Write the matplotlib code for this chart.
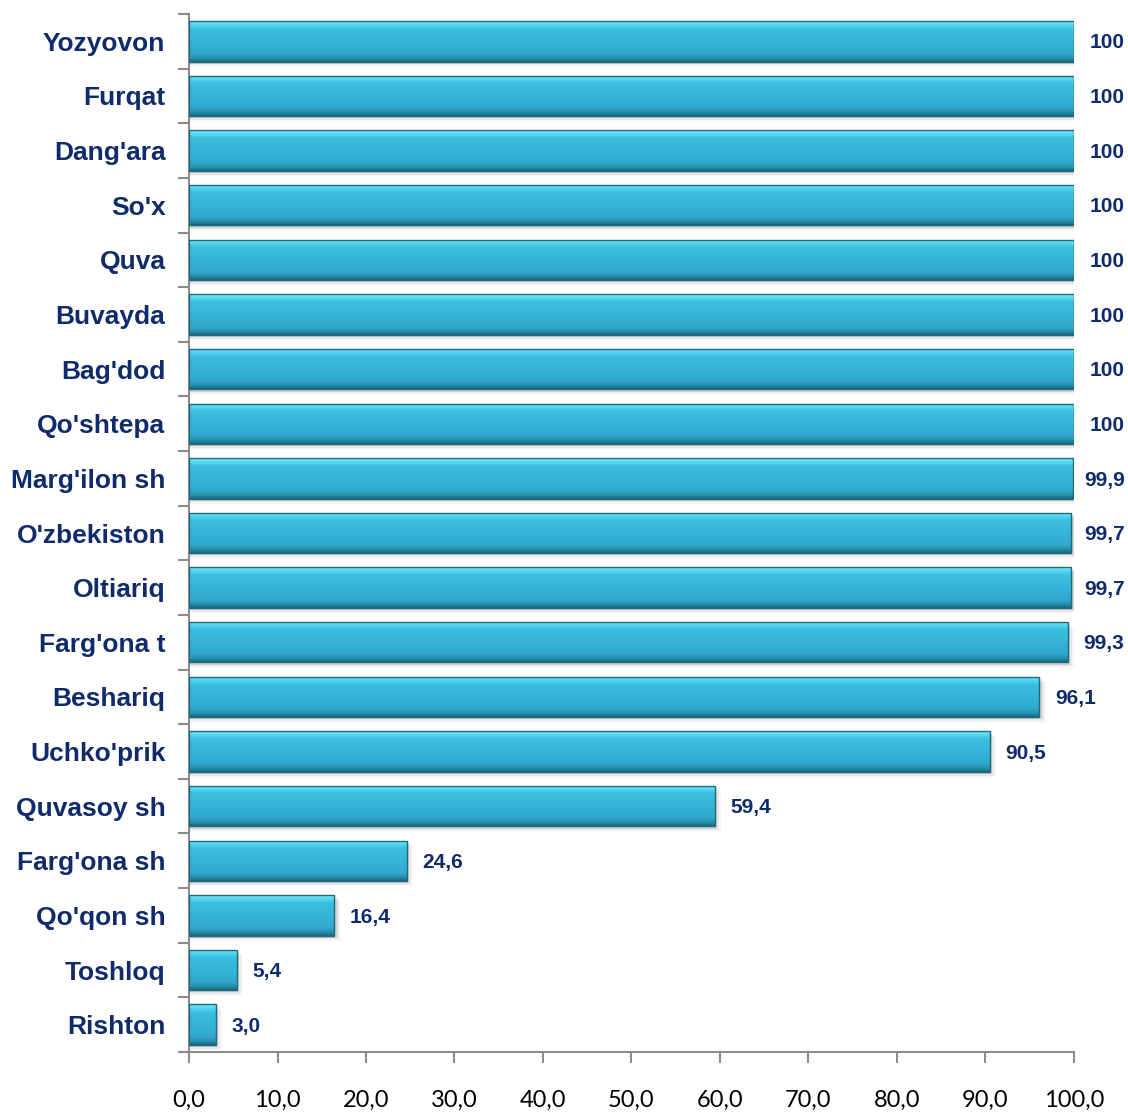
import numpy as np
import matplotlib
matplotlib.use("Agg")
import matplotlib.pyplot as plt
from matplotlib.patches import Rectangle

# data, top to bottom
regions = ["Yozyovon", "Furqat", "Dang'ara", "So'x", "Quva", "Buvayda", "Bag'dod",
           "Qo'shtepa", "Marg'ilon sh", "O'zbekiston", "Oltiariq", "Farg'ona t",
           "Beshariq", "Uchko'prik", "Quvasoy sh", "Farg'ona sh", "Qo'qon sh",
           "Toshloq", "Rishton"]
values = [100, 100, 100, 100, 100, 100, 100, 100, 99.9, 99.7, 99.7, 99.3,
          96.1, 90.5, 59.4, 24.6, 16.4, 5.4, 3.0]
value_labels = ["100", "100", "100", "100", "100", "100", "100", "100", "99,9",
                "99,7", "99,7", "99,3", "96,1", "90,5", "59,4", "24,6", "16,4",
                "5,4", "3,0"]
xticks = [0, 10, 20, 30, 40, 50, 60, 70, 80, 90, 100]
xtick_labels = ["0,0", "10,0", "20,0", "30,0", "40,0", "50,0", "60,0", "70,0",
                "80,0", "90,0", "100,0"]

navy = "#0F2B6B"
axis_grey = "#8C8C8C"

fig = plt.figure(figsize=(11.28, 11.13), dpi=100)
ax = fig.add_axes([0.1676, 0.0548, 0.952 - 0.1676, 0.9874 - 0.0548])

n = len(regions)
ypos = np.arange(n)
h = 0.74

# vertical gradient for the bevelled bar look (top -> bottom)
stops = [0.0, 0.08, 0.2, 0.5, 0.8, 0.92, 1.0]
grad_cols = np.array([
    [0.45, 0.92, 0.99],
    [0.36, 0.85, 0.95],
    [0.23, 0.75, 0.87],
    [0.21, 0.71, 0.85],
    [0.19, 0.66, 0.80],
    [0.15, 0.55, 0.67],
    [0.10, 0.40, 0.48],
])
grad = np.linspace(0, 1, 80)
img = np.zeros((80, 1, 3))
for c in range(3):
    img[:, 0, c] = np.interp(grad, stops, grad_cols[:, c])

for y, v, lab in zip(ypos, values, value_labels):
    # soft shadow
    for k, a in enumerate([0.10, 0.06, 0.03]):
        ax.add_patch(Rectangle((0, y - h / 2 + 0.04 + k * 0.03), v + 0.3 + k * 0.2, h,
                               facecolor="#000000", alpha=a, edgecolor="none", zorder=1))
    im = ax.imshow(img, extent=(0, v, y + h / 2, y - h / 2), aspect="auto",
                   interpolation="bilinear", zorder=2)
    rect = Rectangle((0, y - h / 2), v, h, facecolor="none", edgecolor="#1D6B7E",
                     linewidth=1.0, zorder=3)
    ax.add_patch(rect)
    im.set_clip_path(rect)
    # labels near 100 get pushed left to stay inside the picture
    tx = min(v + 1.8, 101.2) if v < 100 else v + 1.8
    ax.text(tx, y + 0.03, lab, va="center", ha="left", clip_on=False,
            fontsize=15, fontweight="bold", color=navy, family="Liberation Sans")

ax.set_xlim(0, 100)
ax.set_ylim(n - 0.5, -0.5)

ax.set_yticks(ypos)
ax.set_yticklabels(regions, fontsize=19, fontweight="bold", color=navy,
                   family="Liberation Sans")
ax.set_yticks(np.arange(-0.5, n, 1), minor=True)
ax.tick_params(axis="y", which="major", length=0, pad=17)
ax.tick_params(axis="y", which="minor", length=8, width=1.5, color=axis_grey)

ax.set_xticks(xticks)
ax.set_xticklabels(xtick_labels, fontsize=17, family="Lato", color="#000000")
ax.tick_params(axis="x", which="major", length=8, width=1.5, color=axis_grey, pad=19)

for s in ["top", "right"]:
    ax.spines[s].set_visible(False)
for s in ["left", "bottom"]:
    ax.spines[s].set_color(axis_grey)
    ax.spines[s].set_linewidth(1.5)

fig.savefig("out.png", dpi=100)
